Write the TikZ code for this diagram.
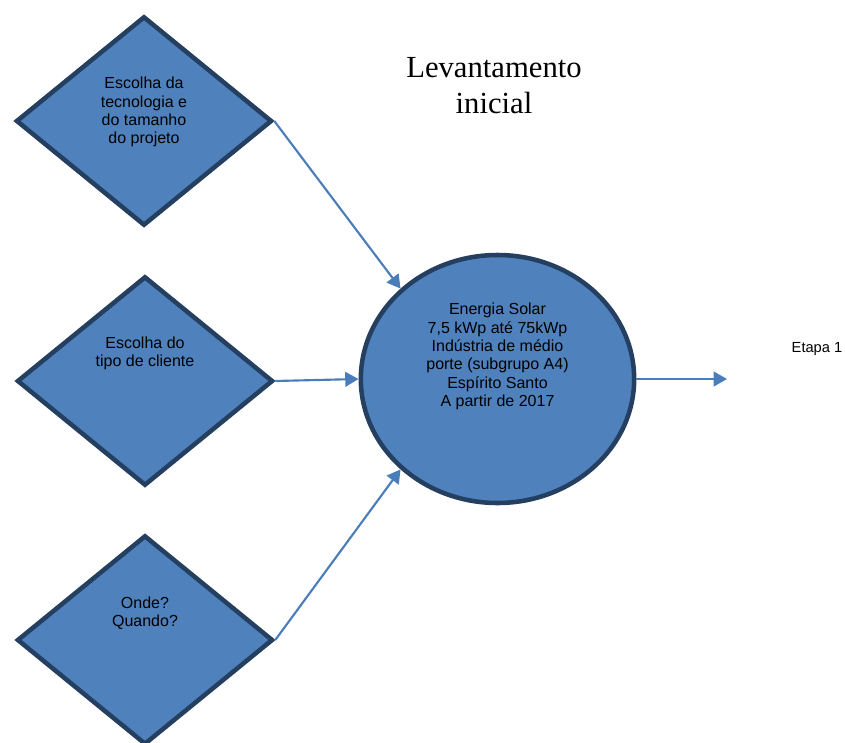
\documentclass[tikz,border=0pt]{standalone}
\usepackage{fontspec}
\setmainfont{Liberation Sans}
\newfontfamily\titlefont{Liberation Serif}
\usetikzlibrary{shapes.geometric,arrows.meta}

\definecolor{shapefill}{HTML}{4F81BD}
\definecolor{shapeline}{HTML}{243F60}
\definecolor{linkblue}{HTML}{4A7EBB}

\tikzset{
  choice/.style={diamond, draw=shapeline, fill=shapefill, line width=3.4pt,
    line join=miter, inner sep=0pt, minimum width=192pt, minimum height=157pt},
  core/.style={ellipse, draw=shapeline, fill=shapefill, line width=3.4pt,
    inner sep=0pt, minimum width=205pt, minimum height=186pt},
  label/.style={align=center, inner sep=0pt, text=black,
    font=\fontsize{12}{13.7}\selectfont},
  link/.style={draw=linkblue, line width=1.6pt,
    -{Triangle[length=10pt,width=11pt]}},
}

\begin{document}
\begin{tikzpicture}[x=0.75pt, y=-0.75pt]
\useasboundingbox (0,0) rectangle (845,742);

% the three questions
\node[choice] (d1) at (144,121) {};
\node[choice] (d2) at (145,381) {};
\node[choice] (d3) at (145,640) {};

\node[label] (t1) at (144,112) {Escolha da\\tecnologia e\\do tamanho\\do projeto};
\node[label] (t2) at (145,353) {Escolha do\\tipo de cliente};
\node[label] (t3) at (145,613) {Onde?\\Quando?};

% central scope
\node[core] (ell) at (497.5,379) {};
\node[label] (et) at (497.5,356.5) {Energia Solar\\7,5 kWp até 75kWp\\Indústria de médio\\porte (subgrupo A4)\\Espírito Santo\\A partir de 2017};

% title and step
\node[align=center, inner sep=0pt, font=\titlefont\fontsize{23}{27}\selectfont]
  (title) at (494,86) {Levantamento\\inicial};
\node[inner sep=0pt, font=\fontsize{11}{13}\selectfont] (step1) at (817,349) {Etapa 1};

\coordinate (out) at (727,379);

% connectors
\draw[link] (d1.east) -- (ell.137);
\draw[link] (d2.east) -- (ell.west);
\draw[link] (d3.east) -- (ell.223);
\draw[link] (ell.east) -- (out);
\end{tikzpicture}
\end{document}
